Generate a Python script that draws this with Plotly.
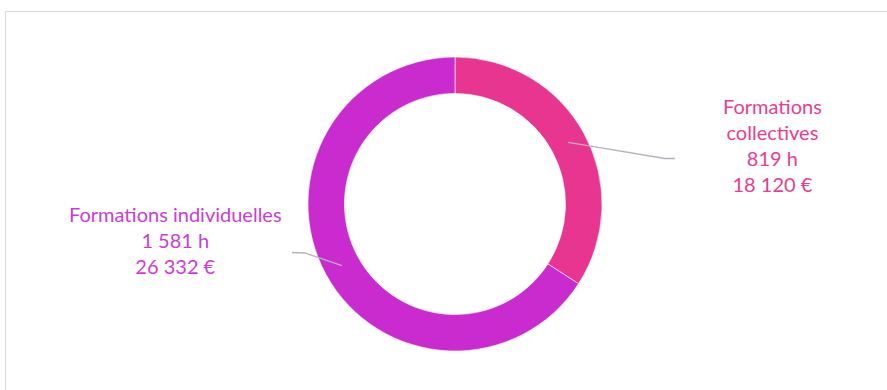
import math
import plotly.graph_objects as go

# ---- data ----
categories = ["Formations collectives", "Formations individuelles"]
hours = [819, 1581]
euros = ["18 120 €", "26 332 €"]
hours_txt = ["819 h", "1 581 h"]
label_lines = [["Formations", "collectives"], ["Formations individuelles"]]

slice_colors = ["#E8358F", "#CA2BCE"]
text_colors = ["#EA3C93", "#CB3DD2"]

W, H = 887, 390
CX, CY, R_OUT = 455, 204, 147
HOLE = 0.752

fig = go.Figure()
fig.add_trace(go.Pie(
    labels=categories,
    values=hours,
    hole=HOLE,
    sort=False,
    direction="clockwise",
    rotation=0,
    marker=dict(colors=slice_colors, line=dict(color="rgba(255,255,255,0.6)", width=1)),
    textinfo="none",
    hoverinfo="label+value",
    showlegend=False,
    domain=dict(x=[(CX - R_OUT) / W, (CX + R_OUT) / W],
                y=[(H - CY - R_OUT) / H, (H - CY + R_OUT) / H]),
))

def px(x, y):
    return x / W, 1 - y / H

# leader line anchors from slice mid-angles
total = sum(hours)
cum = 0
r_mid = R_OUT * (1 + HOLE) / 2
anchors = []
for v in hours:
    mid = (cum + v / 2) / total * 2 * math.pi
    cum += v
    anchors.append((CX + r_mid * math.sin(mid), CY - r_mid * math.cos(mid)))

# label positions (layout)
label_pos = [(772, 104), (175, 212)]
elbows = [[(665, 158.5), (675, 158.5)], [(305, 253), (292, 252.5)]]

shapes = []
# frame
shapes.append(dict(type="rect", xref="paper", yref="paper",
                   x0=5.5 / W, y0=-0.02, x1=1.02, y1=1 - 11.5 / H,
                   line=dict(color="#D9D9D9", width=1), fillcolor="rgba(0,0,0,0)"))
for (ax, ay), pts in zip(anchors, elbows):
    path_pts = [(ax, ay)] + pts
    d = "M " + " L ".join(f"{px(x, y)[0]:.5f},{px(x, y)[1]:.5f}" for x, y in path_pts)
    shapes.append(dict(type="path", xref="paper", yref="paper", path=d,
                       line=dict(color="#B4B4BC", width=1.3)))

annotations = []
for i in range(len(categories)):
    lines = label_lines[i] + [hours_txt[i], euros[i]]
    x, y = label_pos[i]
    annotations.append(dict(
        x=x / W, y=1 - (y - 12) / H, xref="paper", yref="paper",
        xanchor="center", yanchor="top", showarrow=False, align="center",
        text="<br>".join(lines),
        font=dict(family="Lato, 'Open Sans', sans-serif", size=20, color=text_colors[i]),
    ))

fig.update_layout(
    width=W, height=H,
    margin=dict(l=0, r=0, t=0, b=0),
    paper_bgcolor="white", plot_bgcolor="white",
    shapes=shapes, annotations=annotations,
)

fig.write_html("out.html")
